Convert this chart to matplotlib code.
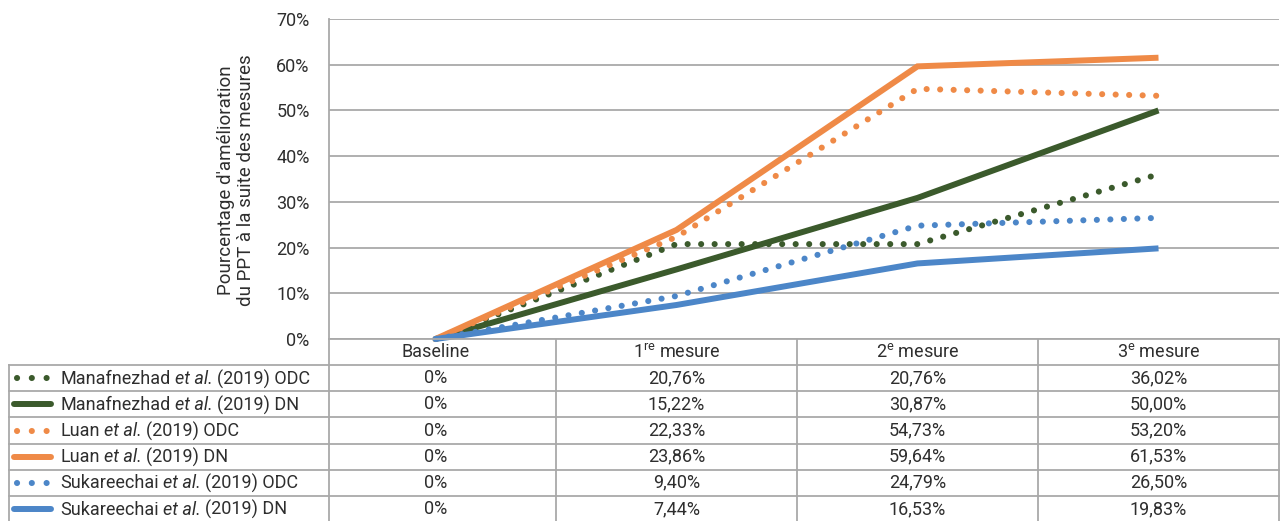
import matplotlib
matplotlib.use("Agg")
import matplotlib.pyplot as plt
from matplotlib import font_manager

# font: condensed look if available
names = {f.name for f in font_manager.fontManager.ttflist}
fam = 'Liberation Sans Narrow' if 'Liberation Sans Narrow' in names else 'Roboto'
plt.rcParams['font.family'] = [fam, 'DejaVu Sans']
plt.rcParams['mathtext.fontset'] = 'custom'
plt.rcParams['mathtext.rm'] = fam
plt.rcParams['mathtext.default'] = 'regular'

# data
categories = ['Baseline', '1$^{re}$ mesure', '2$^{e}$ mesure', '3$^{e}$ mesure']
authors = ['Manafnezhad', 'Manafnezhad', 'Luan', 'Luan', 'Sukareechai', 'Sukareechai']
groups = ['ODC', 'DN', 'ODC', 'DN', 'ODC', 'DN']
manaf_odc = [0, 20.76, 20.76, 36.02]
manaf_dn = [0, 15.22, 30.87, 50.00]
luan_odc = [0, 22.33, 54.73, 53.20]
luan_dn = [0, 23.86, 59.64, 61.53]
suka_odc = [0, 9.40, 24.79, 26.50]
suka_dn = [0, 7.44, 16.53, 19.83]
series = [manaf_odc, manaf_dn, luan_odc, luan_dn, suka_odc, suka_dn]
yticks = [0, 10, 20, 30, 40, 50, 60, 70]

green = '#3b5a2c'
orange = '#ef8a47'
blue = '#4c86c8'
colors = [green, green, orange, orange, blue, blue]
dotted = [True, False, True, False, True, False]
grid_c = '#a9a9a9'
txt_c = '#2e2e2e'
fs = 13

W, H = 1285, 521
fig = plt.figure(figsize=(W / 100, H / 100), dpi=100)
renderer = fig.canvas.get_renderer()

# pixel layout
left_px, right_px, top_px, zero_px = 329, 1279, 19, 339
unit_px = 241.0          # one category step in pixels
x0_px = 1158.5 - 3 * unit_px
xmin = (left_px - x0_px) / unit_px
xmax = (right_px - x0_px) / unit_px

ax = fig.add_axes([left_px / W, (H - zero_px) / H, (right_px - left_px) / W, (zero_px - top_px) / H])
ax.set_xlim(xmin, xmax)
ax.set_ylim(0, 70)
for s in ['top', 'right', 'bottom']:
    ax.spines[s].set_visible(False)
ax.spines['left'].set_color(grid_c)
ax.spines['left'].set_linewidth(1.3)
ax.set_xticks([])
ax.set_yticks(yticks)
ax.set_yticklabels([f'{t}%' for t in yticks], fontsize=fs, color=txt_c)
ax.tick_params(axis='y', length=0, pad=14)
ax.grid(axis='y', color=grid_c, linewidth=1.3)
ax.set_axisbelow(True)

dot_lw = 4.4
line_lw = 4.3
xs = list(range(len(categories)))
for vals, c, d in zip(series, colors, dotted):
    if d:
        ax.plot(xs, vals, color=c, lw=dot_lw, linestyle=(0, (0.01, 2.2)),
                dash_capstyle='round', clip_on=False, zorder=3)
    else:
        ax.plot(xs, vals, color=c, lw=line_lw, solid_capstyle='butt',
                solid_joinstyle='miter', clip_on=False, zorder=3)

fig.text(236 / W, 1 - 180 / H, "Pourcentage d'amélioration\ndu PPT à la suite des mesures",
         rotation=90, ha='center', va='center', multialignment='center',
         fontsize=13.5, color=txt_c, linespacing=1.1)

# table below the plot
tab_left_px, tab_bottom_px = 9, 522
tab = fig.add_axes([tab_left_px / W, (H - tab_bottom_px) / H,
                    (right_px - tab_left_px) / W, (tab_bottom_px - zero_px) / H])
tab.set_xlim((tab_left_px - x0_px) / unit_px, xmax)
nrows = len(series) + 1
tab.set_ylim(nrows, 0)
tab.axis('off')
lk = dict(color=grid_c, lw=1.3, clip_on=False)
lab_x = (tab_left_px - x0_px) / unit_px
# horizontal borders
tab.plot([xmin, xmax], [0, 0], **lk)
for r in range(1, nrows + 1):
    tab.plot([lab_x, xmax], [r, r], **lk)
# vertical borders
tab.plot([lab_x, lab_x], [1, nrows], **lk)
for xb in [xmin, 0.5, 1.5, 2.5, xmax]:
    tab.plot([xb, xb], [0, nrows], **lk)

for i, cat in enumerate(categories):
    tab.text(i, 0.5, cat, ha='center', va='center', fontsize=fs, color=txt_c)

px = 1 / unit_px
space = 4.3 * px


def write_parts(x, y, parts):
    # writes pieces of text one after the other on the same baseline
    for txt, style in parts:
        t = tab.text(x, y, txt, ha='left', va='center_baseline', fontsize=fs,
                     color=txt_c, style=style)
        bb = t.get_window_extent(renderer)
        x = tab.transData.inverted().transform((bb.x1, 0))[0] + space


for r, (au, gr, vals, c, d) in enumerate(zip(authors, groups, series, colors, dotted), start=1):
    yc = r + 0.5
    if d:
        tab.plot([lab_x + 8 * px, lab_x + 38.5 * px], [yc, yc], color=c, lw=dot_lw,
                 linestyle=(0, (0.01, 2.41)), dash_capstyle='round')
    else:
        tab.plot([lab_x + 5 * px, lab_x + 42 * px], [yc, yc], color=c, lw=line_lw,
                 solid_capstyle='round')
    write_parts(lab_x + 51 * px, yc - 0.05,
                [(au, 'normal'), ('et al.', 'italic'), (f'(2019) {gr}', 'normal')])
    for i, v in enumerate(vals):
        s = '0%' if v == 0 else f'{v:.2f}'.replace('.', ',') + '%'
        tab.text(i, yc, s, ha='center', va='center', fontsize=fs, color=txt_c)

fig.savefig('out.png', dpi=100)
